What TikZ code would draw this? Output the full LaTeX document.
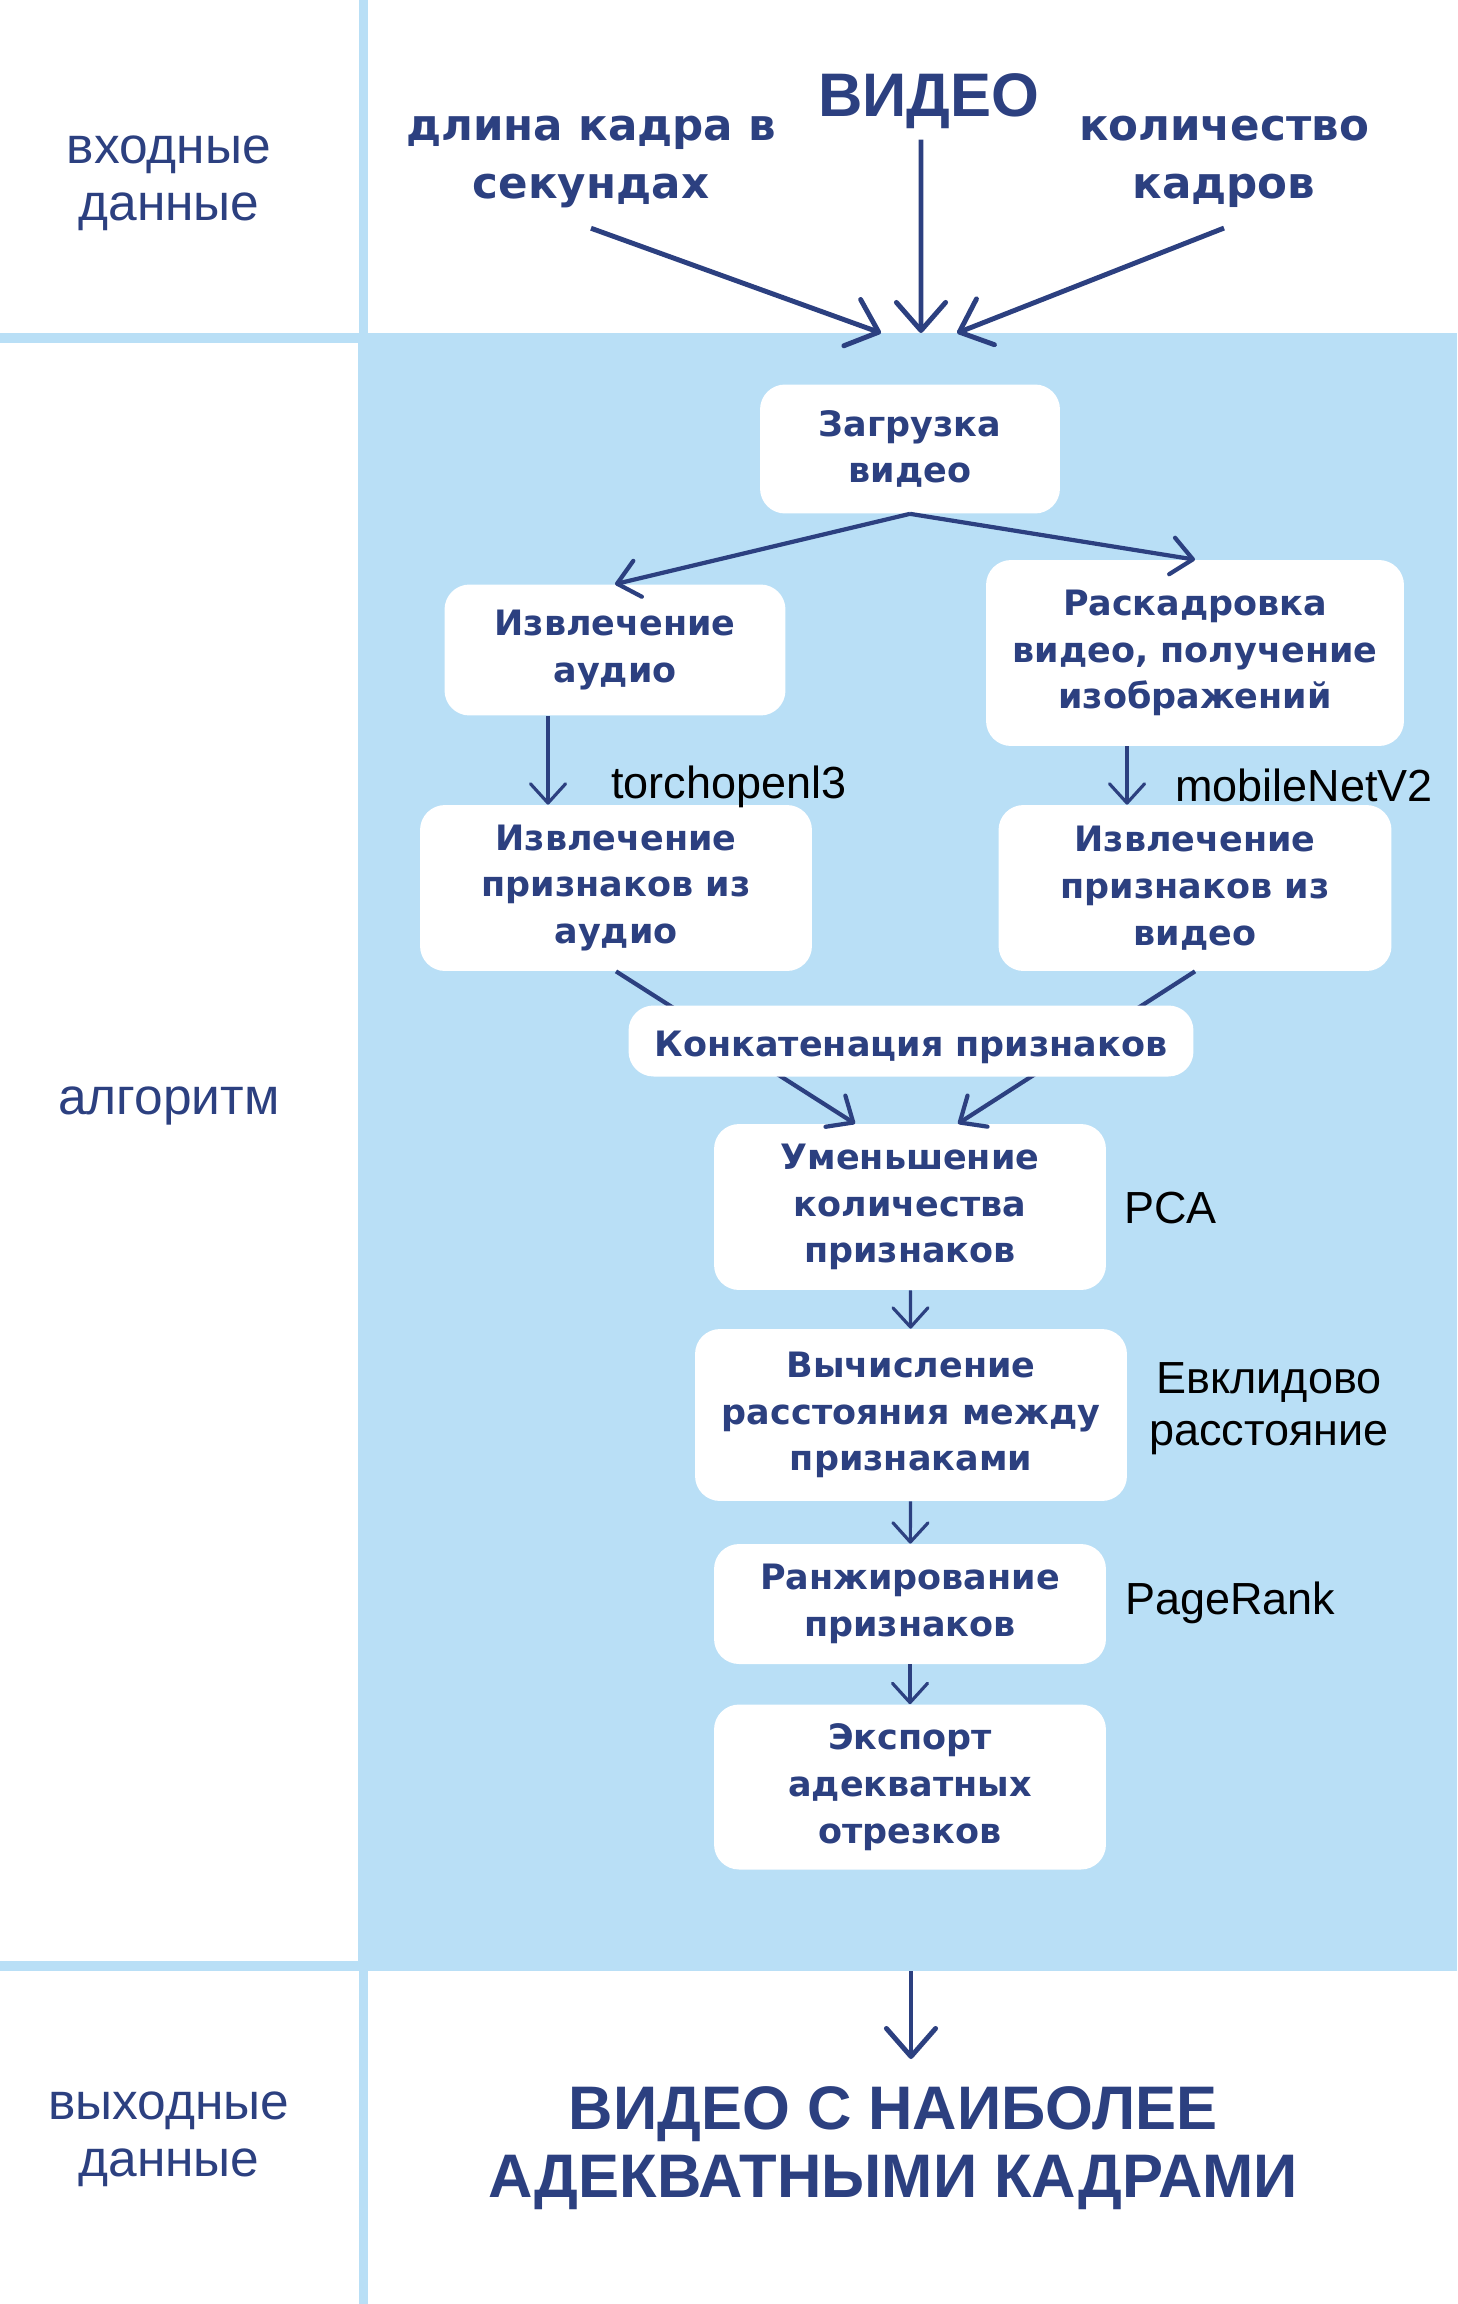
\documentclass[tikz,border=0pt]{standalone}
\usepackage{fontspec}
\setmainfont{Liberation Sans}
\newfontfamily\verd{DejaVu Sans}
\usetikzlibrary{arrows.meta}
\definecolor{navy}{RGB}{44,64,128}
\definecolor{skyband}{RGB}{185,223,246}

\begin{document}
\begin{tikzpicture}[x=0.02cm,y=-0.02cm,
	block/.style={
		rectangle,
		rounded corners=0.5cm,
		fill=white,
		text=navy,
		align=center,
		inner sep=0pt,
		font=\verd\bfseries\fontsize{19.9}{26.6}\selectfont,
		execute at begin node={\rule{0pt}{22pt}},% pushes the lines a little down
	},
	headtext/.style={text=navy, align=center, inner sep=0pt, font=\verd\bfseries\fontsize{24.8}{33}\selectfont},
	bigtext/.style={text=navy, align=center, inner sep=0pt, font=\bfseries\fontsize{35}{39}\selectfont},
	side/.style={text=navy, align=center, inner sep=0pt, font=\fontsize{29.3}{32.5}\selectfont},
	note/.style={align=center, inner sep=0pt, font=\fontsize{25.6}{29.5}\selectfont},
	ArrowThin/.style={-{Straight Barb[round,length=11pt,width=20pt]}, line width=1.8pt, draw=navy},
	ArrowMid/.style={-{Straight Barb[round,length=12pt,width=21pt]}, line width=2.4pt, draw=navy},
	ArrowThick/.style={-{Straight Barb[round,length=16pt,width=28pt]}, line width=2.8pt, draw=navy},
]
	\useasboundingbox (0,0) rectangle (1457,2304);
	% bands
	\fill [skyband] (358,333) rectangle (1457,1971);
	\fill [skyband] (359,0) rectangle (368,2304);
	\fill [skyband] (0,333) rectangle (359,343);
	\fill [skyband] (0,1961) rectangle (359,1971);

	\node [side] (inlabel) at (169,183) {входные\\данные};
	\node [side] (alglabel) at (169,1106) {алгоритм};
	\node [side] (outlabel) at (169,2139) {выходные\\данные};

	% inputs
	\node [bigtext, anchor=base] (video) at (929,117) {ВИДЕО};
	\node [headtext] (len) at (591,162) {длина кадра в\\секундах};
	\node [headtext] (count) at (1224,162) {количество\\кадров};
	\coordinate (lentip) at (881,333);
	\coordinate (videotip) at (921,333);
	\coordinate (counttip) at (957,333);

	\draw [ArrowThick] ([yshift=-0.4cm]len.south) -- (lentip);
	\draw [ArrowThick] ([xshift=-0.16cm,yshift=-0.2cm]video.south) -- (videotip);
	\draw [ArrowThick] ([yshift=-0.4cm]count.south) -- (counttip);

	% algorithm
	\node [block, minimum width=6cm, minimum height=2.58cm] (load) at (910,449) {Загрузка\\видео};
	\node [block, minimum width=6.82cm, minimum height=2.62cm] (audio) at (615,650) {Извлечение\\аудио};
	\node [block, minimum width=8.36cm, minimum height=3.72cm] (frames) at (1195,653) {Раскадровка\\видео, получение\\изображений};
	\node [block, minimum width=7.84cm, minimum height=3.32cm] (afeat) at (616,888) {Извлечение\\признаков из\\аудио};
	\node [block, minimum width=7.86cm, minimum height=3.32cm] (vfeat) at (1195,888) {Извлечение\\признаков из\\видео};
	\node [block, minimum width=7.84cm, minimum height=3.32cm] (pca) at (910,1207) {Уменьшение\\количества\\признаков};
	\node [block, minimum width=8.64cm, minimum height=3.44cm] (dist) at (911,1415) {Вычисление\\расстояния между\\признаками};
	\node [block, minimum width=7.84cm, minimum height=2.4cm] (rank) at (910,1604) {Ранжирование\\признаков};
	\node [block, minimum width=7.84cm, minimum height=3.3cm] (export) at (910,1787) {Экспорт\\адекватных\\отрезков};

	\draw [ArrowMid] (load.south) -- (audio.north);
	\draw [ArrowMid] (load.south) -- (frames.north);
	\draw [ArrowThin] ([xshift=-1.34cm]audio.south) -- ([xshift=-1.36cm]afeat.north);
	\draw [ArrowThin] ([xshift=-1.36cm]frames.south) -- ([xshift=-1.36cm]vfeat.north);
	\draw [ArrowMid] (afeat.south) -- ([xshift=-1.1cm]pca.north);
	\draw [ArrowMid] (vfeat.south) -- ([xshift=0.96cm]pca.north);

	% drawn after the two lines so it hides them
	\node [block, minimum width=11.3cm, minimum height=1.42cm] (concat) at (911,1041) {Конкатенация признаков};

	\draw [ArrowThin] (pca) -- (dist);
	\draw [ArrowThin] (dist) -- (rank);
	\draw [ArrowThin] (rank) -- (export);

	\node [note, anchor=west] (torch) at (611,787) {torchopenl3};
	\node [note, anchor=west] (mobile) at (1175,785) {mobileNetV2};
	\node [note, anchor=west] (pcanote) at (1124,1208) {PCA};
	\node [note] (euclid) at (1269,1409) {Евклидово\\расстояние};
	\node [note, anchor=west] (pagerank) at (1125,1603) {PageRank};

	% output
	\coordinate (outstart) at (911,1971);
	\coordinate (outtip) at (911,2059);
	\draw [ArrowThick] (outstart) -- (outtip);
	\node [bigtext] (result) at (893,2148) {ВИДЕО С НАИБОЛЕЕ\\АДЕКВАТНЫМИ КАДРАМИ};
\end{tikzpicture}
\end{document}
